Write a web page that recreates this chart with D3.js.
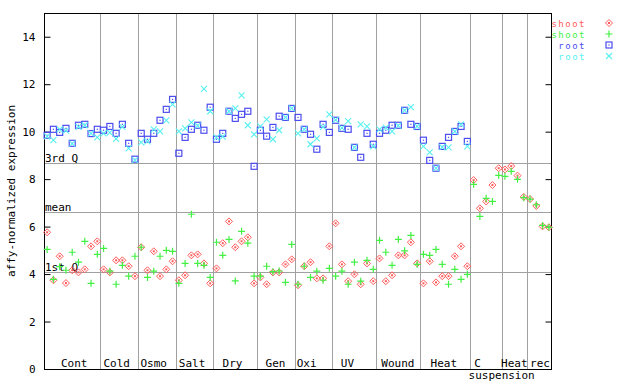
<!DOCTYPE html>
<html>
<head>
<meta charset="utf-8">
<script src="https://cdn.jsdelivr.net/npm/d3@7/dist/d3.min.js"></script>
<style>
  html, body { margin: 0; padding: 0; background: #fff; }
  svg text { font-family: "DejaVu Sans Mono", monospace; font-size: 11px; fill: #000; }
</style>
</head>
<body>
<svg id="chart" width="640" height="384"></svg>
<script>
// ---- data ----
const groupNames = ["Cont", "Cold", "Osmo", "Salt", "Dry", "Gen", "Oxi", "UV", "Wound", "Heat", "C|suspension", "Heat", "rec"];
const groupSizes = [9, 6, 6, 6, 7, 6, 6, 7, 7, 8, 5, 4, 4];
const yTicks = [0, 2, 4, 6, 8, 10, 12, 14];
const refNames = ["3rd Q", "mean", "1st Q"];
const refValues = [8.667, 6.603, 4.074];
const seriesNames = ["shoot", "shoot", "root", "root"];

const shoot1 = [5.76, 3.74, 4.75, 3.62, 4.16, 4.07, 4.20, 5.17, 5.38,
  4.20, 4.07, 4.58, 4.58, 4.33, 3.91,
  5.13, 4.16, 4.96, 3.91, 4.20, 4.54,
  3.74, 3.95, 4.79, 4.83, 4.45, 3.61,
  4.24, 5.30, 6.22, 5.13, 5.38, 5.55, 3.61,
  3.86, 3.57, 4.07, 4.07, 4.41, 4.62,
  3.53, 4.33, 4.50, 3.82, 3.82, 5.17,
  6.14, 4.41, 3.70, 3.99, 3.57, 4.45, 3.70,
  4.66, 3.70, 3.95, 4.79, 4.79, 5.34, 4.45,
  3.61, 4.54, 3.65, 3.91, 3.91, 4.75, 5.17, 4.33,
  7.96, 6.77, 7.06, 7.75, 8.46,
  8.41, 8.55, 8.15, 7.25,
  7.16, 6.87, 6.01, 5.97];
const shoot2 = [5.04, 3.78, 4.31, 4.16, 4.92, 4.50, 5.38, 3.61, 4.83,
  5.08, 4.12, 3.57, 4.37, 3.91, 4.75,
  5.13, 3.86, 4.12, 4.75, 5.00, 4.96,
  3.61, 4.45, 6.52, 4.45, 4.37, 3.86,
  5.34, 4.79, 5.46, 3.71, 5.80, 5.30, 3.91,
  3.91, 4.33, 4.10, 4.13, 3.65, 5.25,
  3.57, 4.33, 3.86, 4.12, 3.74, 4.24,
  3.91, 4.12, 3.57, 4.50, 3.70, 4.58, 4.20,
  5.42, 4.92, 4.37, 5.46, 4.98, 5.63, 4.41,
  4.83, 4.79, 5.04, 4.41, 3.57, 4.20, 3.78, 3.99,
  7.78, 6.43, 7.19, 7.06, 8.16,
  8.12, 8.33, 7.99, 7.22,
  7.16, 6.92, 6.05, 5.97];
const root1 = [9.85, 10.10, 9.97, 10.14, 9.51, 10.27, 10.31, 9.92, 10.10,
  10.06, 10.22, 9.93, 10.31, 9.51, 8.84,
  9.93, 9.68, 9.93, 10.48, 10.94, 11.36,
  9.09, 9.76, 10.10, 10.27, 10.06, 11.03,
  9.68, 9.93, 10.86, 10.56, 10.73, 10.86, 8.54,
  10.06, 9.81, 10.18, 10.65, 10.60, 10.98,
  10.60, 10.10, 9.89, 9.26, 10.31, 9.97,
  10.48, 10.14, 10.10, 9.34, 8.92, 9.93, 9.47,
  9.93, 10.06, 10.27, 10.27, 10.90, 10.31, 10.22,
  9.64, 8.79, 8.46, 9.38, 9.76, 10.01, 10.22, 9.59];
const root2 = [9.80, 9.64, 10.10, 10.04, 9.50, 10.20, 10.27, 9.93, 9.76,
  9.93, 9.96, 9.70, 10.20, 9.30, 8.80,
  9.55, 9.59, 10.10, 10.01, 10.48, 11.15,
  10.01, 10.14, 10.39, 10.25, 11.80, 10.86,
  9.76, 9.79, 10.86, 10.98, 11.53, 10.27, 9.89,
  10.22, 10.52, 9.68, 10.06, 10.60, 10.98,
  9.93, 10.10, 9.47, 9.72, 10.20, 10.73,
  10.50, 10.16, 10.44, 9.34, 10.31, 10.22, 9.38,
  10.10, 10.17, 10.01, 10.25, 10.90, 11.03, 10.22,
  9.38, 9.13, 8.46, 9.35, 9.34, 10.01, 10.31, 9.38];

// ---- layout ----
const L = 44, R = 552, T = 13, B = 369;
const nSamples = d3.sum(groupSizes);
const svg = d3.select("#chart");

const x = d3.scaleBand().domain(d3.range(nSamples)).range([L, R]).padding(0);
const cx = i => x(i) + x.bandwidth() / 2;
const y = d3.scaleLinear().domain([0, 15]).range([B, T]);

const colors = ["#ff5a5a", "#44f044", "#4c4cf0", "#58f0f0"];
const grid = "#a0a0a0";

// group boundaries
const bounds = [];
let acc = 0;
groupSizes.forEach((s, k) => { bounds.push({ start: acc, end: acc + s, name: groupNames[k] }); acc += s; });

// separators
svg.append("g").selectAll("line").data(bounds.slice(0, -1)).join("line")
  .attr("x1", d => Math.round(x(d.end)) + 0.5).attr("x2", d => Math.round(x(d.end)) + 0.5)
  .attr("y1", T).attr("y2", B)
  .attr("stroke", grid).attr("stroke-width", 1);

// reference lines
const refG = svg.append("g");
refG.selectAll("line").data(refValues).join("line")
  .attr("x1", L).attr("x2", R)
  .attr("y1", d => Math.round(y(d)) + 0.5).attr("y2", d => Math.round(y(d)) + 0.5)
  .attr("stroke", grid).attr("stroke-width", 1);
refG.selectAll("text").data(refValues).join("text")
  .attr("x", L + 1).attr("y", d => Math.round(y(d)) - 1)
  .text((d, i) => refNames[i]);

// axes
const yAxisL = d3.axisLeft(y).tickValues(yTicks).tickSize(-6).tickPadding(9).tickFormat(d3.format("d"));
const gL = svg.append("g").attr("transform", `translate(${L + 0.5},0)`).call(yAxisL);
gL.select(".domain").remove();
gL.selectAll("text").style("font-family", "DejaVu Sans Mono, monospace").style("font-size", "11px");
gL.selectAll("line").attr("stroke", "#000");
const yAxisR = d3.axisRight(y).tickValues(yTicks).tickSize(-6).tickFormat("");
const gR = svg.append("g").attr("transform", `translate(${R - 0.5},0)`).call(yAxisR);
gR.select(".domain").remove();
gR.selectAll("line").attr("stroke", "#000");

// frame
svg.append("rect").attr("x", L + 0.5).attr("y", T + 0.5).attr("width", R - L - 1).attr("height", B - T)
  .attr("fill", "none").attr("stroke", "#000").attr("stroke-width", 1);

// y title
svg.append("text").attr("transform", `translate(15,${(T + B) / 2}) rotate(-90)`)
  .attr("text-anchor", "middle").text("affy-normalized expression");

// category labels
const nudge = [2, -2.6, -3.2, -2.5, -2.8, -0.5, -7, -7, -0.5, -1.6, -8.7, 0, 0.5];
const catG = svg.append("g");
bounds.forEach((b, k) => {
  const c = (x(b.start) + x(b.end - 1) + x.bandwidth()) / 2;
  const parts = b.name.split("|");
  catG.append("text").attr("x", c + nudge[k]).attr("y", 367).attr("text-anchor", "middle").text(parts[0]);
  if (parts[1]) catG.append("text").attr("x", c + nudge[k] + 24.2).attr("y", 379).attr("text-anchor", "middle").text(parts[1]);
});

// markers
function drawMarker(g, type, color) {
  if (type === 0) { // diamond
    g.append("path").attr("d", "M0,-3.5L3.5,0L0,3.5L-3.5,0Z").attr("fill", "none").attr("stroke", color).attr("stroke-width", 1);
    g.append("rect").attr("x", -1).attr("y", -1).attr("width", 2).attr("height", 2).attr("fill", color);
  } else if (type === 1) { // plus
    g.append("path").attr("d", "M-3.5,0H3.5M0,-3.5V3.5").attr("stroke", color).attr("stroke-width", 1.2);
  } else if (type === 2) { // square with dot
    g.append("rect").attr("x", -3).attr("y", -3).attr("width", 6).attr("height", 6).attr("fill", "none").attr("stroke", color).attr("stroke-width", 1.2);
    g.append("rect").attr("x", -0.6).attr("y", -0.6).attr("width", 1.2).attr("height", 1.2).attr("fill", color);
  } else { // x
    g.append("path").attr("d", "M-3,-3L3,3M-3,3L3,-3").attr("stroke", color).attr("stroke-width", 1.1);
  }
}

const allSeries = [shoot1, shoot2, root1, root2];
allSeries.forEach((vals, s) => {
  const sg = svg.append("g");
  sg.selectAll("g").data(vals).join("g")
    .attr("transform", (d, i) => `translate(${cx(i)},${y(d)})`)
    .each(function() { drawMarker(d3.select(this), s, colors[s]); });
});

// legend
const lg = svg.append("g");
seriesNames.forEach((n, s) => {
  lg.append("text").attr("x", 586).attr("y", 27 + s * 11).attr("text-anchor", "end")
    .style("fill", colors[s]).style("font-size", "9px").style("letter-spacing", "1.5px").text(n);
  drawMarker(lg.append("g").attr("transform", `translate(609,${23 + s * 11})`), s, colors[s]);
});
</script>
</body>
</html>
